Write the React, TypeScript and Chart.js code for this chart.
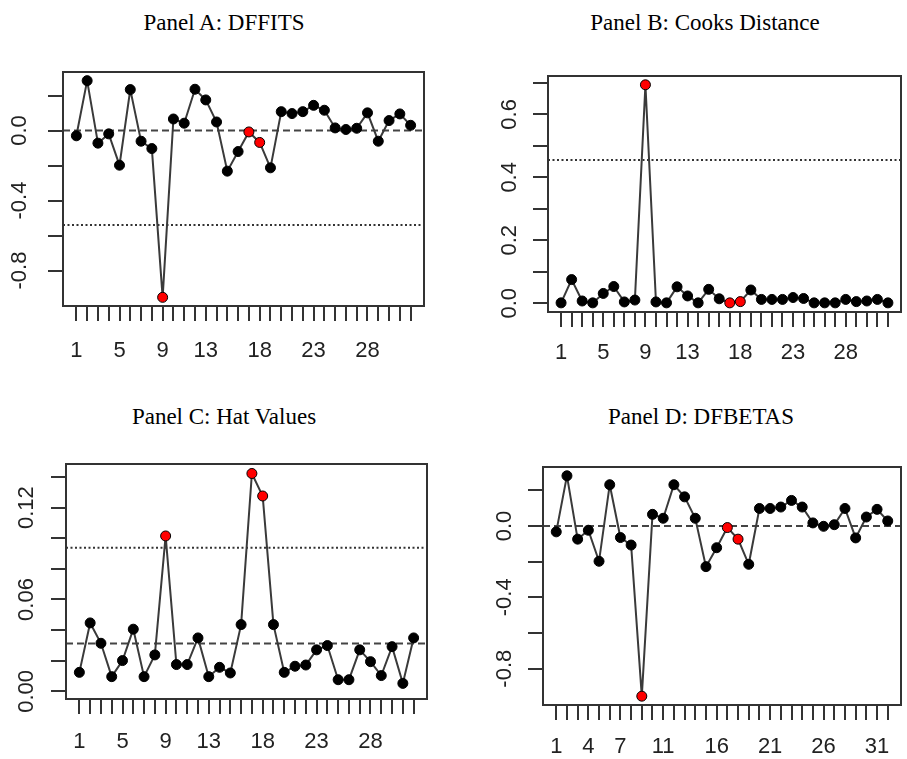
import React, { useEffect, useRef } from "react";
import { Chart, registerables } from "chart.js";

Chart.register(...registerables);

// ---------------- data ----------------
const obsIds = [1, 2, 3, 4, 5, 6, 7, 8, 9, 10, 11, 12, 13, 14, 15, 16, 17, 18, 19, 20, 21, 22, 23, 24, 25, 26, 27, 28, 29, 30, 31, 32];
const flaggedIds = [9, 17, 18];

const dffitsValues = [-0.030, 0.285, -0.072, -0.019, -0.198, 0.234, -0.061, -0.103, -0.953, 0.066, 0.042, 0.236, 0.175, 0.049, -0.232, -0.120, -0.008, -0.068, -0.213, 0.108, 0.097, 0.108, 0.144, 0.116, 0.015, 0.006, 0.013, 0.101, -0.061, 0.057, 0.095, 0.030];
const cooksValues = [0.001, 0.075, 0.007, 0.001, 0.031, 0.053, 0.004, 0.010, 0.694, 0.004, 0.001, 0.052, 0.023, 0.001, 0.044, 0.014, 0.001, 0.005, 0.042, 0.012, 0.012, 0.012, 0.018, 0.015, 0.001, 0.001, 0.001, 0.012, 0.005, 0.007, 0.012, 0.001];
const hatValues = [0.0124, 0.0447, 0.0314, 0.0096, 0.0201, 0.0406, 0.0096, 0.0238, 0.1015, 0.0175, 0.0175, 0.0349, 0.0096, 0.0157, 0.0120, 0.0436, 0.1423, 0.1276, 0.0436, 0.0124, 0.0164, 0.0172, 0.0271, 0.0299, 0.0076, 0.0076, 0.0271, 0.0194, 0.0103, 0.0292, 0.0052, 0.0349];
const dfbetasValues = [-0.033, 0.281, -0.074, -0.024, -0.198, 0.231, -0.065, -0.107, -0.954, 0.065, 0.043, 0.231, 0.163, 0.043, -0.228, -0.122, -0.009, -0.074, -0.215, 0.098, 0.098, 0.106, 0.143, 0.106, 0.017, -0.002, 0.007, 0.098, -0.067, 0.050, 0.093, 0.028];

const xLabelsABC = [1, 5, 9, 13, 18, 23, 28];
const xLabelsD = [1, 4, 7, 11, 16, 21, 26, 31];

const yTicksDffits = [-0.8, -0.6, -0.4, -0.2, 0, 0.2];
const yLabelsDffits = [0, -0.4, -0.8];
const yTickTextDffits = ["0.0", "-0.4", "-0.8"];
const yTicksCooks = [0, 0.1, 0.2, 0.3, 0.4, 0.5, 0.6, 0.7];
const yLabelsCooks = [0, 0.2, 0.4, 0.6];
const yTickTextCooks = ["0.0", "0.2", "0.4", "0.6"];
const yTicksHat = [0, 0.02, 0.04, 0.06, 0.08, 0.1, 0.12, 0.14];
const yLabelsHat = [0, 0.06, 0.12];
const yTickTextHat = ["0.00", "0.06", "0.12"];

const dashedDffits = [0];
const dottedDffits = [-0.54];
const dashedCooks: number[] = [];
const dottedCooks = [0.455];
const dashedHat = [0.03125];
const dottedHat = [0.09375];
const dashedDfbetas = [0];
const dottedDfbetas: number[] = [];

// ---------------- drawing ----------------
const SANS = '"Liberation Sans", Arial, sans-serif';
const SERIF = '"Liberation Serif", "Times New Roman", serif';

const decorPlugin = {
  id: "decor",
  beforeDatasetsDraw(chart: any, _args: any, opts: any) {
    const { ctx, chartArea: a, scales } = chart;
    const ys = scales.y;
    ctx.save();
    ctx.lineWidth = 2;
    ctx.strokeStyle = "#444";
    ctx.setLineDash([7, 4]);
    (opts.dashed || []).forEach((v: number) => {
      const p = ys.getPixelForValue(v);
      ctx.beginPath();
      ctx.moveTo(a.left, p);
      ctx.lineTo(a.right, p);
      ctx.stroke();
    });
    ctx.strokeStyle = "#333";
    ctx.setLineDash([2, 2.5]);
    (opts.dotted || []).forEach((v: number) => {
      const p = ys.getPixelForValue(v);
      ctx.beginPath();
      ctx.moveTo(a.left, p);
      ctx.lineTo(a.right, p);
      ctx.stroke();
    });
    ctx.restore();
  },
  afterDraw(chart: any, _args: any, opts: any) {
    const { ctx, chartArea: a, scales } = chart;
    const ys = scales.y;
    ctx.save();
    ctx.strokeStyle = "#333";
    ctx.lineWidth = 2;
    ctx.setLineDash([]);
    ctx.strokeRect(a.left, a.top, a.right - a.left, a.bottom - a.top);
    ctx.fillStyle = "#222";
    ctx.font = `22px ${SANS}`;
    ctx.textAlign = "center";
    ctx.textBaseline = "alphabetic";
    const bx = a.left - opts.labelGap;
    (opts.yLabels || []).forEach((v: number, i: number) => {
      const p = ys.getPixelForValue(v);
      ctx.save();
      ctx.translate(bx, p);
      ctx.rotate(-Math.PI / 2);
      ctx.fillText(opts.yText[i], 0, 0);
      ctx.restore();
    });
    ctx.restore();
  },
};

type PanelProps = {
  title: string;
  values: number[];
  yMin: number;
  yMax: number;
  yTicks: number[];
  yLabels: number[];
  yText: string[];
  xLabels: number[];
  dashed: number[];
  dotted: number[];
  canvas: { x: number; y: number; w: number; h: number };
  box: { L: number; R: number; T: number; B: number };
  labelGap: number;
  xPad: number;
  titleX: number;
  titleBaseline: number;
};

function Panel(p: PanelProps) {
  const ref = useRef<HTMLCanvasElement | null>(null);
  useEffect(() => {
    if (!ref.current) return;
    const { canvas, box } = p;
    const padTop = box.T - canvas.y;
    const yW = box.L - canvas.x;
    const padRight = canvas.x + canvas.w - box.R;
    const xH = canvas.y + canvas.h - box.B;
    const pts = obsIds.map((id, i) => ({ x: id, y: p.values[i] }));
    const fills = obsIds.map((id) => (flaggedIds.includes(id) ? "#ff0000" : "#000000"));
    const gridOpts = {
      display: true,
      drawOnChartArea: false,
      drawTicks: true,
      tickLength: 15,
      color: "#333",
      lineWidth: 2,
    };
    const chart = new Chart(ref.current, {
      type: "line",
      data: {
        datasets: [
          {
            data: pts,
            borderColor: "#3a3a3a",
            borderWidth: 2,
            pointRadius: 5,
            pointBorderWidth: 1,
            pointBackgroundColor: fills,
            pointBorderColor: "#000",
            tension: 0,
            fill: false,
          },
        ],
      },
      options: {
        animation: false,
        responsive: false,
        maintainAspectRatio: false,
        layout: { padding: { top: padTop, left: 0, right: padRight, bottom: 0 } },
        plugins: {
          legend: { display: false },
          tooltip: { enabled: false },
          title: { display: false },
          decor: {
            dashed: p.dashed,
            dotted: p.dotted,
            yLabels: p.yLabels,
            yText: p.yText,
            labelGap: p.labelGap,
          },
        } as any,
        scales: {
          x: {
            type: "linear",
            min: -0.24,
            max: 33.24,
            afterBuildTicks: (s: any) => {
              s.ticks = obsIds.map((v) => ({ value: v }));
            },
            afterFit: (s: any) => {
              s.height = xH;
            },
            grid: gridOpts,
            border: { display: false },
            ticks: {
              autoSkip: false,
              maxRotation: 0,
              minRotation: 0,
              padding: p.xPad,
              color: "#222",
              font: { family: SANS, size: 22 },
              callback: (v: any) => (p.xLabels.includes(Number(v)) ? String(v) : ""),
            },
          },
          y: {
            type: "linear",
            min: p.yMin,
            max: p.yMax,
            afterBuildTicks: (s: any) => {
              s.ticks = p.yTicks.map((v) => ({ value: v }));
            },
            afterFit: (s: any) => {
              s.width = yW;
            },
            grid: gridOpts,
            border: { display: false },
            ticks: { display: false },
          },
        },
      } as any,
      plugins: [decorPlugin],
    });
    return () => chart.destroy();
  }, []);

  return (
    <>
      <canvas
        ref={ref}
        width={p.canvas.w}
        height={p.canvas.h}
        style={{
          position: "absolute",
          left: p.canvas.x,
          top: p.canvas.y,
          width: p.canvas.w,
          height: p.canvas.h,
          display: "block",
        }}
      />
      <div
        style={{
          position: "absolute",
          left: p.titleX - 250,
          width: 500,
          top: p.titleBaseline - 19.3,
          textAlign: "center",
          fontFamily: SERIF,
          fontSize: 23,
          lineHeight: "23px",
          color: "#000",
          whiteSpace: "nowrap",
        }}
      >
        {p.title}
      </div>
    </>
  );
}

export default function App() {
  return (
    <div
      style={{
        position: "absolute",
        left: 0,
        top: 0,
        width: 907,
        height: 759,
        background: "#fff",
        overflow: "hidden",
      }}
    >
      <Panel
        title="Panel A: DFFITS"
        values={dffitsValues}
        yMin={-1.0025}
        yMax={0.3345}
        yTicks={yTicksDffits}
        yLabels={yLabelsDffits}
        yText={yTickTextDffits}
        xLabels={xLabelsABC}
        dashed={dashedDffits}
        dotted={dottedDffits}
        canvas={{ x: 0, y: 40, w: 453, h: 340 }}
        box={{ L: 63, R: 424, T: 72, B: 306 }}
        labelGap={37}
        xPad={17}
        titleX={224}
        titleBaseline={30}
      />
      <Panel
        title="Panel B: Cooks Distance"
        values={cooksValues}
        yMin={-0.028}
        yMax={0.722}
        yTicks={yTicksCooks}
        yLabels={yLabelsCooks}
        yText={yTickTextCooks}
        xLabels={xLabelsABC}
        dashed={dashedCooks}
        dotted={dottedCooks}
        canvas={{ x: 453, y: 40, w: 454, h: 340 }}
        box={{ L: 548, R: 906, T: 76, B: 312 }}
        labelGap={32}
        xPad={13}
        titleX={705}
        titleBaseline={30}
      />
      <Panel
        title="Panel C: Hat Values"
        values={hatValues}
        yMin={-0.005}
        yMax={0.1485}
        yTicks={yTicksHat}
        yLabels={yLabelsHat}
        yText={yTickTextHat}
        xLabels={xLabelsABC}
        dashed={dashedHat}
        dotted={dottedHat}
        canvas={{ x: 0, y: 430, w: 453, h: 329 }}
        box={{ L: 66, R: 427, T: 464, B: 699 }}
        labelGap={33}
        xPad={15}
        titleX={224}
        titleBaseline={424}
      />
      <Panel
        title="Panel D: DFBETAS"
        values={dfbetasValues}
        yMin={-1.0035}
        yMax={0.3304}
        yTicks={yTicksDffits}
        yLabels={yLabelsDffits}
        yText={yTickTextDffits}
        xLabels={xLabelsD}
        dashed={dashedDfbetas}
        dotted={dottedDfbetas}
        canvas={{ x: 453, y: 430, w: 454, h: 329 }}
        box={{ L: 543, R: 906, T: 467, B: 705 }}
        labelGap={32}
        xPad={14}
        titleX={701}
        titleBaseline={424}
      />
    </div>
  );
}
